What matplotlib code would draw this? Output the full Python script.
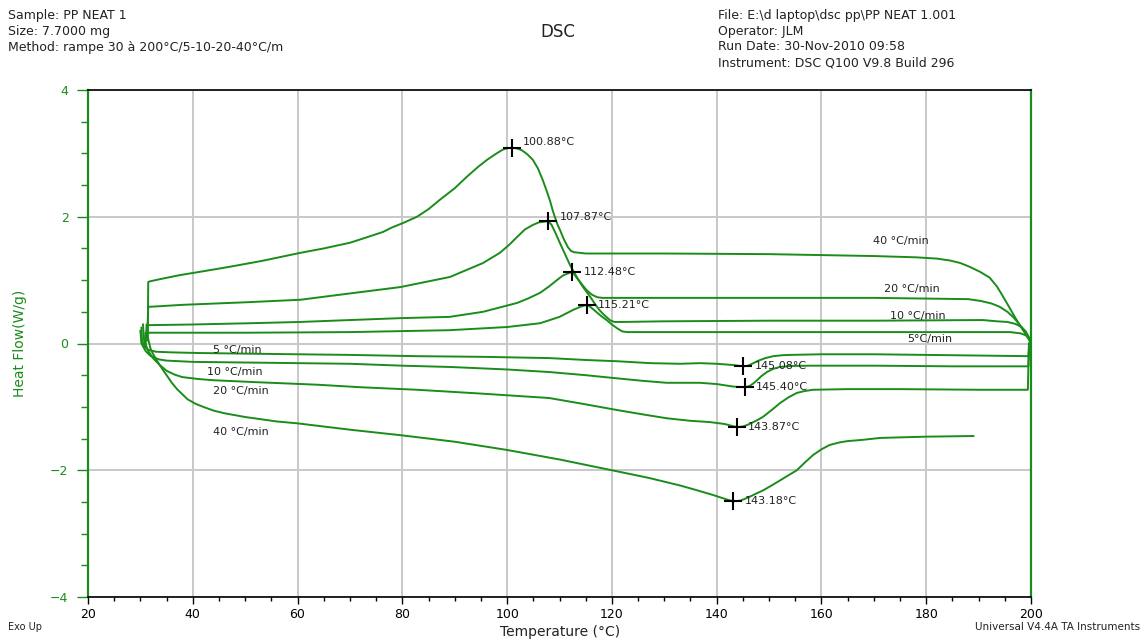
import matplotlib
matplotlib.use("Agg")
import matplotlib.pyplot as plt
from matplotlib.ticker import MultipleLocator

plt.rcParams['font.family'] = ['DejaVu Sans']

GREEN = '#1a8c1a'
TXT = '#222222'

# ---- heating scans (temperature rising) ----
h5_T = [30.2, 30.3, 30.8, 31.5, 33, 36, 41, 50, 60, 70, 82.8, 95, 108, 115, 121, 127.3, 133,
        136.8, 140, 143.2, 145.08, 146, 147, 148, 149.3, 150.8, 152.5, 154, 160, 170, 180, 190,
        199.5, 199.7]
h5_HF = [0.25, 0.05, -0.05, -0.1, -0.13, -0.14, -0.15, -0.16, -0.17, -0.18, -0.2, -0.21, -0.23,
         -0.26, -0.28, -0.31, -0.32, -0.31, -0.32, -0.34, -0.36, -0.35, -0.31, -0.27, -0.23,
         -0.2, -0.185, -0.18, -0.17, -0.17, -0.18, -0.19, -0.2, 0.0]

h10_T = [30.0, 30.2, 31, 32, 33.5, 35, 40, 50, 60, 70, 80, 89, 100, 108, 115, 121, 126, 130.5,
         136.8, 140, 143.2, 145.4, 146.3, 147, 147.7, 148.6, 149.6, 150.8, 152, 154, 158, 170,
         185, 199.5, 199.7]
h10_HF = [0.2, 0.0, -0.12, -0.2, -0.25, -0.27, -0.29, -0.3, -0.31, -0.32, -0.35, -0.37, -0.41,
          -0.45, -0.5, -0.55, -0.59, -0.62, -0.62, -0.64, -0.68, -0.69, -0.67, -0.63, -0.58,
          -0.51, -0.45, -0.4, -0.37, -0.355, -0.35, -0.35, -0.36, -0.36, 0.0]

h20_T = [30.5, 30.7, 31.5, 32.5, 33.7, 35, 36.5, 38, 41, 44, 52, 63.7, 72, 82.8, 95, 108, 115,
         121, 126, 130.5, 135, 138.7, 141.5, 143.87, 145, 146, 147.5, 148.8, 150.5, 152.1, 153.7,
         155.3, 156.8, 158.4, 165, 175, 190, 199.4, 199.6]
h20_HF = [0.3, 0.05, -0.12, -0.24, -0.34, -0.43, -0.49, -0.53, -0.56, -0.58, -0.61, -0.65,
          -0.69, -0.73, -0.79, -0.86, -0.96, -1.05, -1.12, -1.18, -1.22, -1.24, -1.27, -1.32,
          -1.31, -1.28, -1.22, -1.16, -1.05, -0.94, -0.85, -0.78, -0.75, -0.73, -0.72, -0.72,
          -0.73, -0.73, 0.0]

h40_T = [31.2, 31.4, 32, 33, 34, 35, 36, 37, 38, 39, 40.5, 42, 44, 46, 50, 56, 60, 70, 80, 90,
         100, 110, 120, 127, 133, 136, 139.3, 141.5, 143.18, 144.5, 146, 147.5, 148.8, 150.5,
         152.1, 153.7, 155.3, 156.8, 158.4, 160, 161.6, 163.5, 165, 167.9, 171.2, 180, 189]
h40_HF = [0.3, 0.1, -0.1, -0.25, -0.38, -0.5, -0.62, -0.72, -0.8, -0.88, -0.95, -1.0, -1.06,
          -1.1, -1.16, -1.23, -1.26, -1.36, -1.45, -1.55, -1.68, -1.83, -2.0, -2.12, -2.24,
          -2.31, -2.39, -2.45, -2.49, -2.48, -2.43, -2.37, -2.32, -2.24, -2.16, -2.08, -2.0,
          -1.88, -1.76, -1.67, -1.6, -1.56, -1.54, -1.52, -1.49, -1.47, -1.46]

# ---- cooling scans (temperature falling) ----
c5_T = [200, 199.6, 199, 198, 196, 190, 170, 150, 130, 123, 122, 121, 120, 119, 118, 117, 116,
        115.21, 114, 112.6, 110, 106.3, 100, 89, 70, 50, 32, 31.0, 30.9]
c5_HF = [0.02, 0.08, 0.13, 0.16, 0.18, 0.18, 0.18, 0.18, 0.18, 0.18, 0.19, 0.24, 0.3, 0.37,
         0.43, 0.5, 0.57, 0.61, 0.58, 0.53, 0.42, 0.32, 0.26, 0.21, 0.18, 0.17, 0.17, 0.17, -0.05]

c10_T = [200, 199.6, 199, 198.2, 197, 195.5, 193.5, 190.8, 170, 150, 130, 122, 120.5, 119.8,
         119.2, 118.4, 117.6, 116.8, 116, 115.3, 114.5, 113.8, 113, 112.48, 111.4, 110.6, 109.5,
         108, 106.3, 104, 101.9, 95.4, 89, 79.6, 70, 60.5, 51, 40, 32, 31.2, 31.0]
c10_HF = [0.02, 0.1, 0.19, 0.26, 0.31, 0.34, 0.35, 0.37, 0.36, 0.36, 0.35, 0.34, 0.34, 0.36,
          0.4, 0.46, 0.53, 0.62, 0.72, 0.8, 0.89, 0.98, 1.07, 1.13, 1.1, 1.07, 1.0, 0.9, 0.8,
          0.71, 0.64, 0.5, 0.42, 0.4, 0.37, 0.34, 0.32, 0.3, 0.29, 0.29, 0.0]

c20_T = [200, 199.4, 198.7, 197.8, 196.8, 195.5, 194, 192.5, 190.5, 188, 170, 150, 130, 118.2,
         117.2, 116.2, 115.2, 114.3, 113.5, 112.8, 112, 111, 110, 109.2, 108.5, 107.87, 106,
         104.9, 103.4, 101.9, 100.3, 98.6, 95.4, 89.1, 79.6, 70, 60.5, 50, 38, 32, 31.5, 31.3]
c20_HF = [0.02, 0.1, 0.2, 0.3, 0.4, 0.5, 0.58, 0.63, 0.67, 0.7, 0.72, 0.72, 0.72, 0.72, 0.73,
          0.77, 0.84, 0.93, 1.02, 1.12, 1.24, 1.42, 1.6, 1.75, 1.87, 1.93, 1.91, 1.87, 1.8, 1.68,
          1.55, 1.43, 1.27, 1.05, 0.89, 0.79, 0.69, 0.65, 0.61, 0.58, 0.58, 0.05]

c40_T = [200, 199.4, 198.8, 198, 196.9, 195.8, 194.6, 193.5, 192.1, 190.3, 188.3, 186.5, 184.5,
         182, 178, 170, 150, 130, 115, 112.8, 112.2, 111.6, 110.8, 110.1, 109.6, 109.1, 108.7,
         108.2, 107.5, 106.8, 105.9, 104.9, 103.8, 102.8, 101.8, 100.88, 100.0, 99.2, 98, 96.2,
         94.5, 92.3, 90, 87.2, 85, 82.8, 80.1, 78, 76.3, 73, 70, 65, 60.5, 53, 47, 42, 37.6, 34,
         31.8, 31.5, 31.4]
c40_HF = [0.0, 0.09, 0.17, 0.27, 0.42, 0.58, 0.75, 0.9, 1.04, 1.13, 1.21, 1.27, 1.31, 1.34, 1.36,
          1.38, 1.41, 1.42, 1.42, 1.44, 1.46, 1.52, 1.65, 1.79, 1.88, 2.0, 2.1, 2.25, 2.42, 2.58,
          2.76, 2.9, 2.99, 3.05, 3.08, 3.09, 3.08, 3.06, 3.0, 2.9, 2.79, 2.63, 2.45, 2.27, 2.12,
          2.0, 1.9, 1.83, 1.76, 1.67, 1.59, 1.5, 1.43, 1.3, 1.21, 1.14, 1.08, 1.02, 0.98, 0.97,
          0.1]

# ---- peak analysis results ----
cryst_T = [100.88, 107.87, 112.48, 115.21]
cryst_HF = [3.09, 1.93, 1.13, 0.61]
melt_T = [145.08, 145.40, 143.87, 143.18]
melt_HF = [-0.36, -0.69, -1.32, -2.49]

rate_names = ['5 °C/min', '10 °C/min', '20 °C/min', '40 °C/min']

fig = plt.figure(figsize=(11.47, 6.41), dpi=100)
ax = fig.add_axes([88 / 1147, 1 - 597 / 641, (1031 - 88) / 1147, (597 - 90) / 641])

for T, HF in [(h5_T, h5_HF), (h10_T, h10_HF), (h20_T, h20_HF), (h40_T, h40_HF),
              (c5_T, c5_HF), (c10_T, c10_HF), (c20_T, c20_HF), (c40_T, c40_HF)]:
    ax.plot(T, HF, color=GREEN, lw=1.4, zorder=3, solid_joinstyle='round')

# peak markers with their temperatures
ax.plot(cryst_T + melt_T, cryst_HF + melt_HF, linestyle='none', marker='+', ms=13,
        mew=1.5, color='black', zorder=4)
cryst_dy = [4, 3, 0, 0]
for T, HF, dy in zip(cryst_T, cryst_HF, cryst_dy):
    ax.annotate(f'{T:.2f}°C', (T, HF), xytext=(8, dy), textcoords='offset points',
                ha='left', va='center', fontsize=8, color=TXT, zorder=5)
for T, HF in zip(melt_T, melt_HF):
    ax.annotate(f'{T:.2f}°C', (T, HF), xytext=(8, 0), textcoords='offset points',
                ha='left', va='center', fontsize=8, color=TXT, zorder=5)

# scan-rate labels
heat_lab_x = [43.9, 42.7, 43.9, 43.9]
heat_lab_y = [-0.10, -0.45, -0.75, -1.40]
cool_lab_x = [176.3, 173.1, 171.9, 169.8]
cool_lab_y = [0.07, 0.43, 0.86, 1.62]
cool_names = ['5°C/min', '10 °C/min', '20 °C/min', '40 °C/min']
for name, x, y in zip(rate_names, heat_lab_x, heat_lab_y):
    ax.text(x, y, name, fontsize=8, color=TXT, ha='left', va='center', zorder=5)
for name, x, y in zip(cool_names, cool_lab_x, cool_lab_y):
    ax.text(x, y, name, fontsize=8, color=TXT, ha='left', va='center', zorder=5)

ax.set_xlim(20, 200)
ax.set_ylim(-4, 4)
ax.xaxis.set_major_locator(MultipleLocator(20))
ax.xaxis.set_minor_locator(MultipleLocator(5))
ax.yaxis.set_major_locator(MultipleLocator(2))
ax.yaxis.set_minor_locator(MultipleLocator(0.5))
ax.grid(True, which='major', color='#c8c8c8', lw=1.4, zorder=0)
ax.set_axisbelow(True)

ax.tick_params(axis='x', which='major', direction='out', length=5, width=1, colors='black',
               labelsize=9, pad=3)
ax.tick_params(axis='x', which='minor', direction='out', length=3, width=1, colors='black')
ax.tick_params(axis='y', which='major', direction='out', length=8, width=1, colors=GREEN,
               labelsize=9, labelcolor=GREEN, pad=6)
ax.tick_params(axis='y', which='minor', direction='out', length=5, width=1, colors=GREEN)

for s in ['left', 'right']:
    ax.spines[s].set_color(GREEN)
    ax.spines[s].set_linewidth(1.6)
for s in ['top', 'bottom']:
    ax.spines[s].set_color('black')
    ax.spines[s].set_linewidth(1.2)

ax.set_ylabel('Heat Flow(W/g)', color=GREEN, fontsize=10)
ax.yaxis.set_label_coords(-0.065, 0.5)
fig.text(560 / 1147, 1 - 632 / 641, 'Temperature (°C)', ha='center', va='center',
         fontsize=10, color=TXT)

# header block
left_hdr = ['Sample: PP NEAT 1', 'Size: 7.7000 mg', 'Method: rampe 30 à 200°C/5-10-20-40°C/m']
right_hdr = ['File: E:\\d laptop\\dsc pp\\PP NEAT 1.001', 'Operator: JLM',
             'Run Date: 30-Nov-2010 09:58', 'Instrument: DSC Q100 V9.8 Build 296']
hdr_y = [15, 31, 47, 63]
for t, y in zip(left_hdr, hdr_y):
    fig.text(8 / 1147, 1 - y / 641, t, ha='left', va='center', fontsize=9, color=TXT)
for t, y in zip(right_hdr, hdr_y):
    fig.text(718 / 1147, 1 - y / 641, t, ha='left', va='center', fontsize=9, color=TXT)
fig.text(558 / 1147, 1 - 32 / 641, 'DSC', ha='center', va='center', fontsize=12, color=TXT)

fig.text(8 / 1147, 1 - 627 / 641, 'Exo Up', ha='left', va='center', fontsize=7, color=TXT)
fig.text(1140 / 1147, 1 - 627 / 641, 'Universal V4.4A TA Instruments', ha='right',
         va='center', fontsize=7.5, color=TXT)

fig.savefig('out.png', dpi=100)
